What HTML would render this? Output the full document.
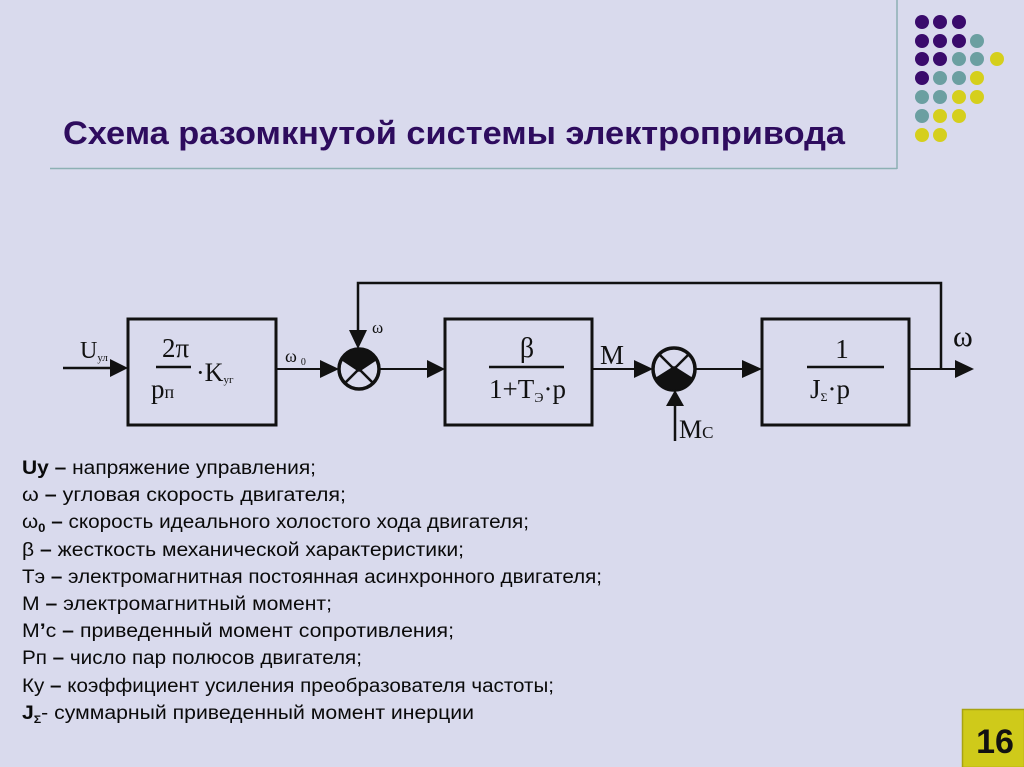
<!DOCTYPE html>
<html><head><meta charset="utf-8"><style>
html,body{margin:0;padding:0;background:#d9daed;}
svg{display:block;}
.s{font-family:"Liberation Serif","DejaVu Serif",serif;fill:#111;}
.l{font-family:"Liberation Sans","DejaVu Sans",sans-serif;font-size:19px;fill:#0a0a0a;}
</style></head><body>
<svg width="1024" height="767" viewBox="0 0 1024 767" xmlns="http://www.w3.org/2000/svg">
<rect x="0" y="0" width="1024" height="767" fill="#d9daed"/>
<!-- header lines -->
<line x1="50" y1="168.5" x2="897" y2="168.5" stroke="#8db0b4" stroke-width="1.5"/>
<line x1="897" y1="0" x2="897" y2="169" stroke="#8db0b4" stroke-width="1.5"/>
<!-- dots -->
<g>
<circle cx="922" cy="22" r="7" fill="#3a0b6c"/><circle cx="940" cy="22" r="7" fill="#3a0b6c"/><circle cx="959" cy="22" r="7" fill="#3a0b6c"/>
<circle cx="922" cy="41" r="7" fill="#3a0b6c"/><circle cx="940" cy="41" r="7" fill="#3a0b6c"/><circle cx="959" cy="41" r="7" fill="#3a0b6c"/><circle cx="977" cy="41" r="7" fill="#6b9fa1"/>
<circle cx="922" cy="59" r="7" fill="#3a0b6c"/><circle cx="940" cy="59" r="7" fill="#3a0b6c"/><circle cx="959" cy="59" r="7" fill="#6b9fa1"/><circle cx="977" cy="59" r="7" fill="#6b9fa1"/><circle cx="997" cy="59" r="7" fill="#d5cf1c"/>
<circle cx="922" cy="78" r="7" fill="#3a0b6c"/><circle cx="940" cy="78" r="7" fill="#6b9fa1"/><circle cx="959" cy="78" r="7" fill="#6b9fa1"/><circle cx="977" cy="78" r="7" fill="#d5cf1c"/>
<circle cx="922" cy="97" r="7" fill="#6b9fa1"/><circle cx="940" cy="97" r="7" fill="#6b9fa1"/><circle cx="959" cy="97" r="7" fill="#d5cf1c"/><circle cx="977" cy="97" r="7" fill="#d5cf1c"/>
<circle cx="922" cy="116" r="7" fill="#6b9fa1"/><circle cx="940" cy="116" r="7" fill="#d5cf1c"/><circle cx="959" cy="116" r="7" fill="#d5cf1c"/>
<circle cx="922" cy="135" r="7" fill="#d5cf1c"/><circle cx="940" cy="135" r="7" fill="#d5cf1c"/>
</g>
<!-- title -->
<text x="63" y="144" font-family="Liberation Sans, DejaVu Sans, sans-serif" font-size="32" font-weight="bold" fill="#2e0c5e" textLength="782" lengthAdjust="spacingAndGlyphs">Схема разомкнутой системы электропривода</text>

<!-- diagram -->
<g stroke="#111" fill="none">
<rect x="128" y="319" width="148" height="106" stroke-width="3"/>
<rect x="445" y="319" width="147" height="106" stroke-width="3"/>
<rect x="762" y="319" width="147" height="106" stroke-width="3"/>
<!-- connectors -->
<line x1="63" y1="368" x2="112" y2="368" stroke-width="2.5"/>
<line x1="276" y1="369" x2="322" y2="369" stroke-width="2"/>
<line x1="379" y1="369" x2="428" y2="369" stroke-width="2"/>
<line x1="592" y1="369" x2="636" y2="369" stroke-width="2"/>
<line x1="695" y1="369" x2="744" y2="369" stroke-width="2"/>
<line x1="909" y1="369" x2="957" y2="369" stroke-width="2"/>
<polyline points="941,370 941,283 358,283 358,332" stroke-width="2.5"/>
<line x1="675" y1="441" x2="675" y2="404" stroke-width="2.5"/>
<!-- fraction lines -->
<line x1="156" y1="367" x2="191" y2="367" stroke-width="2.5"/>
<line x1="489" y1="367" x2="564" y2="367" stroke-width="2.5"/>
<line x1="807" y1="367" x2="884" y2="367" stroke-width="2.5"/>
<!-- junction 1 -->
<circle cx="359" cy="369" r="20" stroke-width="3.5"/>
<line x1="344.9" y1="354.9" x2="373.1" y2="383.1" stroke-width="2.5"/>
<line x1="373.1" y1="354.9" x2="344.9" y2="383.1" stroke-width="2.5"/>
<!-- junction 2 -->
<circle cx="674" cy="369" r="21" stroke-width="3.5"/>
<line x1="659.2" y1="354.2" x2="688.8" y2="383.8" stroke-width="2.5"/>
<line x1="688.8" y1="354.2" x2="659.2" y2="383.8" stroke-width="2.5"/>
</g>
<g fill="#111">
<path d="M341,360 A20,20 0 0 1 377,360 L359,372 Z"/>
<path d="M655,378 A21,21 0 0 0 693,378 L674,366 Z"/>
<!-- arrowheads -->
<polygon points="110,359 128,368 110,377"/>
<polygon points="320,360 339,369 320,378"/>
<polygon points="427,360 445,369 427,378"/>
<polygon points="634,360 653,369 634,378"/>
<polygon points="742,360 762,369 742,378"/>
<polygon points="955,360 974,369 955,378"/>
<polygon points="349,330 367,330 358,349"/>
<polygon points="666,406 684,406 675,390"/>
</g>
<!-- labels -->
<text class="s" x="80" y="358" font-size="24">U<tspan font-size="11" dy="3">ул</tspan></text>
<text class="s" x="162" y="357" font-size="27">2π</text>
<text class="s" x="151" y="398" font-size="27">p<tspan font-size="18">п</tspan></text>
<text class="s" x="196" y="381" font-size="26">·K<tspan font-size="11" dy="2">уг</tspan></text>
<text class="s" x="285" y="362" font-size="18">ω<tspan font-size="10" dx="4" dy="3">0</tspan></text>
<text class="s" x="372" y="333" font-size="17">ω</text>
<text class="s" x="527" y="357" font-size="28" text-anchor="middle">β</text>
<text class="s" x="489" y="398" font-size="27">1+T<tspan font-size="14" dy="4">Э</tspan><tspan dy="-4">·p</tspan></text>
<text class="s" x="600" y="364" font-size="27">M</text>
<text class="s" x="679" y="438" font-size="26">M<tspan font-size="17">C</tspan></text>
<text class="s" x="842" y="358" font-size="27" text-anchor="middle">1</text>
<text class="s" x="810" y="398" font-size="27">J<tspan font-size="12" dy="3">Σ</tspan><tspan dy="-3">·p</tspan></text>
<text class="s" x="953" y="346" font-size="30">ω</text>

<!-- legend -->
<text class="l" x="22" y="474" textLength="294" lengthAdjust="spacingAndGlyphs"><tspan font-weight="bold">Uy –</tspan> напряжение управления;</text>
<text class="l" x="22" y="501" textLength="324" lengthAdjust="spacingAndGlyphs">ω  <tspan font-weight="bold">–</tspan> угловая скорость двигателя;</text>
<text class="l" x="22" y="528" textLength="507" lengthAdjust="spacingAndGlyphs">ω<tspan font-size="12" font-weight="bold" dy="4">0</tspan><tspan dy="-4" font-weight="bold"> –</tspan> скорость идеального холостого хода двигателя;</text>
<text class="l" x="22" y="556" textLength="442" lengthAdjust="spacingAndGlyphs">β  <tspan font-weight="bold">–</tspan> жесткость механической характеристики;</text>
<text class="l" x="22" y="583" textLength="580" lengthAdjust="spacingAndGlyphs">Тэ <tspan font-weight="bold">–</tspan> электромагнитная постоянная асинхронного двигателя;</text>
<text class="l" x="22" y="610" textLength="310" lengthAdjust="spacingAndGlyphs">М <tspan font-weight="bold">–</tspan> электромагнитный момент;</text>
<text class="l" x="22" y="637" textLength="432" lengthAdjust="spacingAndGlyphs">М<tspan font-weight="bold">’</tspan>с <tspan font-weight="bold">–</tspan> приведенный момент сопротивления;</text>
<text class="l" x="22" y="664" textLength="340" lengthAdjust="spacingAndGlyphs">Рп <tspan font-weight="bold">–</tspan> число пар полюсов двигателя;</text>
<text class="l" x="22" y="692" textLength="532" lengthAdjust="spacingAndGlyphs">Ку <tspan font-weight="bold">–</tspan> коэффициент усиления преобразователя частоты;</text>
<text class="l" x="22" y="719" textLength="452" lengthAdjust="spacingAndGlyphs"><tspan font-weight="bold">J</tspan><tspan font-weight="bold" font-size="11" dy="4">Σ</tspan><tspan dy="-4">- суммарный приведенный момент инерции</tspan></text>

<!-- slide number -->
<rect x="962.5" y="709.5" width="62" height="58" fill="#cfca1a" stroke="#a8a312" stroke-width="1.5"/>
<text x="995" y="753" font-family="Liberation Sans, DejaVu Sans, sans-serif" font-size="34" font-weight="bold" fill="#111" text-anchor="middle">16</text>
</svg>
</body></html>
